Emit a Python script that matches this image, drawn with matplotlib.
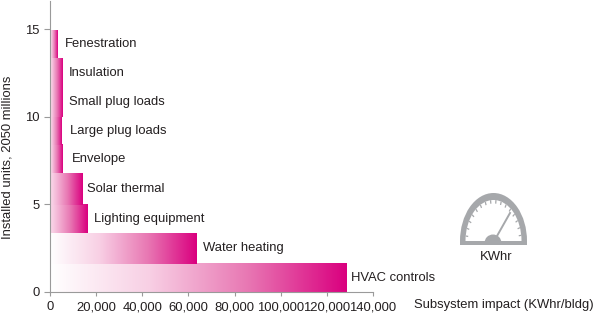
#!/usr/bin/env python3

import numpy as np
import matplotlib
matplotlib.use("Agg")
import matplotlib.pyplot as plt
from matplotlib.colors import LinearSegmentedColormap
from matplotlib.patches import Ellipse, Rectangle, Circle

plt.rcParams["font.family"] = ["Liberation Sans", "DejaVu Sans"]

# bottom to top, as stacked in the chart
subsystems = ["HVAC controls", "Water heating", "Lighting equipment", "Solar thermal",
              "Envelope", "Large plug loads", "Small plug loads", "Insulation", "Fenestration"]
impact = [128500, 63500, 16400, 14000, 5600, 5100, 5400, 5600, 3400]
units = [1.6, 1.75, 1.6, 1.8, 1.6, 1.65, 1.65, 1.7, 1.55]
label_gap = [5, 6, 6, 5, 9, 8, 7, 6, 7]

x_ticks = [0, 20000, 40000, 60000, 80000, 100000, 120000, 140000]
y_ticks = [0, 5, 10, 15]

GRAY = "#9a9a9a"
TXT = "#231f20"
W, H = 598, 315

pink = LinearSegmentedColormap.from_list(
    "pink_fade", ["#ffffff", "#f8cfe4", "#e877b3", "#da007f"])

fig = plt.figure(figsize=(W / 100, H / 100), dpi=100)
ax = fig.add_axes([50 / W, 1 - 291.7 / H, 323 / W, 290.7 / H])

bottom = 0
for name, val, h, gap in zip(subsystems, impact, units, label_gap):
    # short bars start from a pale pink, long ones fade out to white
    start = 0.0 if val > 50000 else 0.3
    grad = np.linspace(start, 1, 256)[None, :]
    ax.imshow(grad, extent=[500, val, bottom, bottom + h], aspect="auto",
              cmap=pink, vmin=0, vmax=1, zorder=2)
    ax.annotate(name, (val, bottom + h / 2), xytext=(gap * 0.72, 0),
                textcoords="offset points", va="center", ha="left",
                fontsize=9.4, color=TXT)
    bottom += h

ax.set_xlim(0, 140000)
ax.set_ylim(0, 16.6)
ax.set_xticks(x_ticks)
ax.set_xticklabels([f"{t:,}" for t in x_ticks])
ax.set_yticks(y_ticks)
ax.tick_params(axis="x", length=3, width=0.8, color=GRAY, labelsize=9.4,
               labelcolor=TXT, pad=4)
ax.tick_params(axis="y", length=4.5, width=0.8, color=GRAY, labelsize=9.4,
               labelcolor=TXT, pad=3)
ax.spines["top"].set_visible(False)
ax.spines["right"].set_visible(False)
ax.spines["left"].set_color(GRAY)
ax.spines["bottom"].set_color(GRAY)
ax.patch.set_alpha(0)

fig.text(8 / W, 1 - 157 / H, "Installed units, 2050 millions", rotation=90,
         ha="center", va="center", fontsize=9.4, color=TXT)
fig.text(414 / W, 1 - 305 / H, "Subsystem impact (KWhr/bldg)", ha="left",
         va="center", fontsize=9.4, color=TXT)

# gauge icon, drawn in pixel coordinates on an overlay
ov = fig.add_axes([0, 0, 1, 1])
ov.set_xlim(0, W)
ov.set_ylim(H, 0)
ov.axis("off")

cx, cy = 493.5, 241
clip = Rectangle((450, 185), 90, 56.5, transform=ov.transData)
outer = Ellipse((cx, cy), 67, 96, color="#a6a8ab", lw=0)
inner = Ellipse((cx, cy), 56, 82, color="white", lw=0)
ov.add_patch(outer)
ov.add_patch(inner)
outer.set_clip_path(clip)
inner.set_clip_path(clip)
ov.add_patch(Rectangle((460, 241), 67, 3.5, color="#a6a8ab", lw=0))

# small ticks round the dial
for ang in np.radians(np.arange(8, 175, 11)):
    ov.plot([cx + 28 * np.cos(ang), cx + 25.5 * np.cos(ang)],
            [cy - 41 * np.sin(ang), cy - 37.5 * np.sin(ang)],
            color="#a6a8ab", lw=0.9, solid_capstyle="butt")

hub = Circle((493, 243), 8.5, color="#a6a8ab", lw=0)
ov.add_patch(hub)
hub.set_clip_path(Rectangle((480, 230), 26, 12, transform=ov.transData))
ov.plot([497, 510], [236, 213], color="#a6a8ab", lw=1.4)
ov.text(496, 257, "KWhr", ha="center", va="center", fontsize=9.4, color=TXT)

fig.savefig("out.png", dpi=100)
